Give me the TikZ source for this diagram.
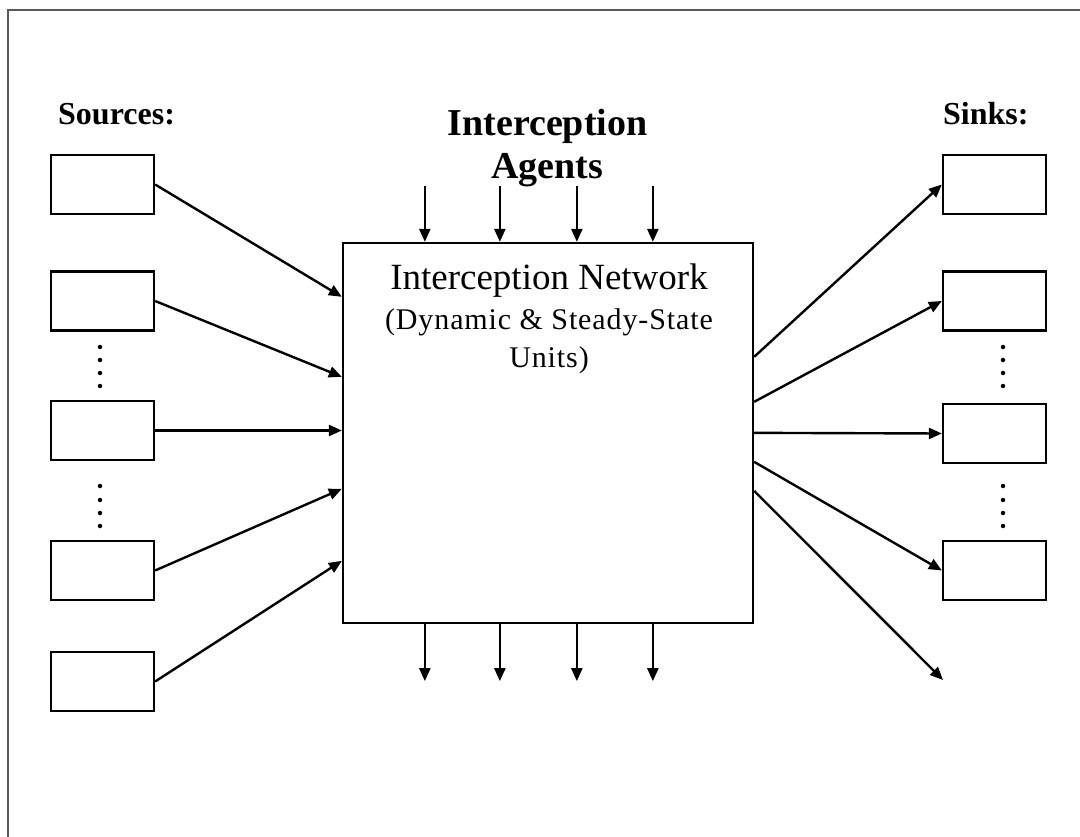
\documentclass[tikz,border=0pt]{standalone}
\usepackage{fontspec}
\setmainfont{Liberation Serif}
\newfontfamily\spacedserif[LetterSpace=3]{Liberation Serif}
\usetikzlibrary{arrows.meta,calc}
\begin{document}
\begin{tikzpicture}[x=1pt,y=-1pt,
  box/.style={draw=black, line width=2.3pt, minimum width=103pt, minimum height=59pt, inner sep=0pt},
  netbox/.style={draw=black, line width=2.3pt, minimum width=410pt, minimum height=380pt, inner sep=0pt},
  flow/.style={-{Triangle[length=13pt,width=11pt]}, line width=2.4pt},
  dot/.style={circle, fill=black, inner sep=0pt, minimum size=4.5pt},
  head/.style={font=\bfseries\fontsize{32}{36}\selectfont, anchor=base west, inner sep=0pt},
]
\useasboundingbox (0,0) rectangle (1080,837);
% frame
\draw[gray!70!black, line width=1.2pt] (8,837) -- (8,10) -- (1080,10);

% headings
\node[head] (srclabel) at (58,125) {Sources:};
\node[head] (sinklabel) at (943,125) {Sinks:};
\node[font=\bfseries\fontsize{38}{43}\selectfont, align=center, anchor=base, inner sep=0pt] (agents) at (547.5,179) {Interception\\Agents};

% central network
\node[netbox] (main) at (548,433) {};
\node[font=\fontsize{37}{40}\selectfont, anchor=base, inner sep=0pt] (nettitle) at (549,290) {Interception Network};
\node[font=\spacedserif\fontsize{30}{38}\selectfont, align=center, anchor=base, inner sep=0pt] (netsub) at (549,367) {(Dynamic \& Steady-State\\Units)};

% sources
\node[box] (src1) at (102.5,184.5) {};
\node[box] (src2) at (102.5,301) {};
\node[box] (src3) at (102.5,430.5) {};
\node[box] (src4) at (102.5,570.5) {};
\node[box] (src5) at (102.5,681.5) {};

% sinks
\node[box] (sink1) at (994.5,184.5) {};
\node[box] (sink2) at (994.5,301) {};
\node[box] (sink3) at (994.5,433.5) {};
\node[box] (sink4) at (994.5,570.5) {};

% ellipsis dots
\foreach \y [count=\i] in {347,360,373,386,486,500,513,526} {
  \node[dot] (ldot\i) at (100,\y) {};
  \node[dot] (rdot\i) at (1003,\y) {};
}

% entry and exit points on the network box
\coordinate (in1) at ($(main.north west)+(0,55)$);
\coordinate (in2) at ($(main.north west)+(0,135)$);
\coordinate (in4) at ($(main.north west)+(0,247)$);
\coordinate (in5) at ($(main.north west)+(0,319)$);
\coordinate (out1) at ($(main.north east)+(0,115)$);
\coordinate (out2) at ($(main.north east)+(0,160)$);
\coordinate (out3) at ($(main.north east)+(0,191)$);
\coordinate (out4) at ($(main.north east)+(0,220)$);
\coordinate (out5) at ($(main.north east)+(0,249)$);
\coordinate (lost) at (943,680);

\draw[flow] (src1.east) -- (in1);
\draw[flow] (src2.east) -- (in2);
\draw[flow] (src3.east) -- (src3.east -| main.west);
\draw[flow] (src4.east) -- (in4);
\draw[flow] (src5.east) -- (in5);

\draw[flow] (out1) -- (sink1.west);
\draw[flow] (out2) -- (sink2.west);
\draw[flow] (out3) -- (sink3.west);
\draw[flow] (out4) -- (sink4.west);
\draw[flow] (out5) -- (lost);

% agents entering and leaving
\foreach \dx [count=\i] in {83,158,235,311} {
  \coordinate (ag\i) at ($(main.north west)+(\dx,-56)$);
  \coordinate (ex\i) at ($(main.south west)+(\dx,57)$);
  \draw[flow] (ag\i) -- (ag\i |- main.north);
  \draw[flow] (ex\i |- main.south) -- (ex\i);
}
\end{tikzpicture}
\end{document}
